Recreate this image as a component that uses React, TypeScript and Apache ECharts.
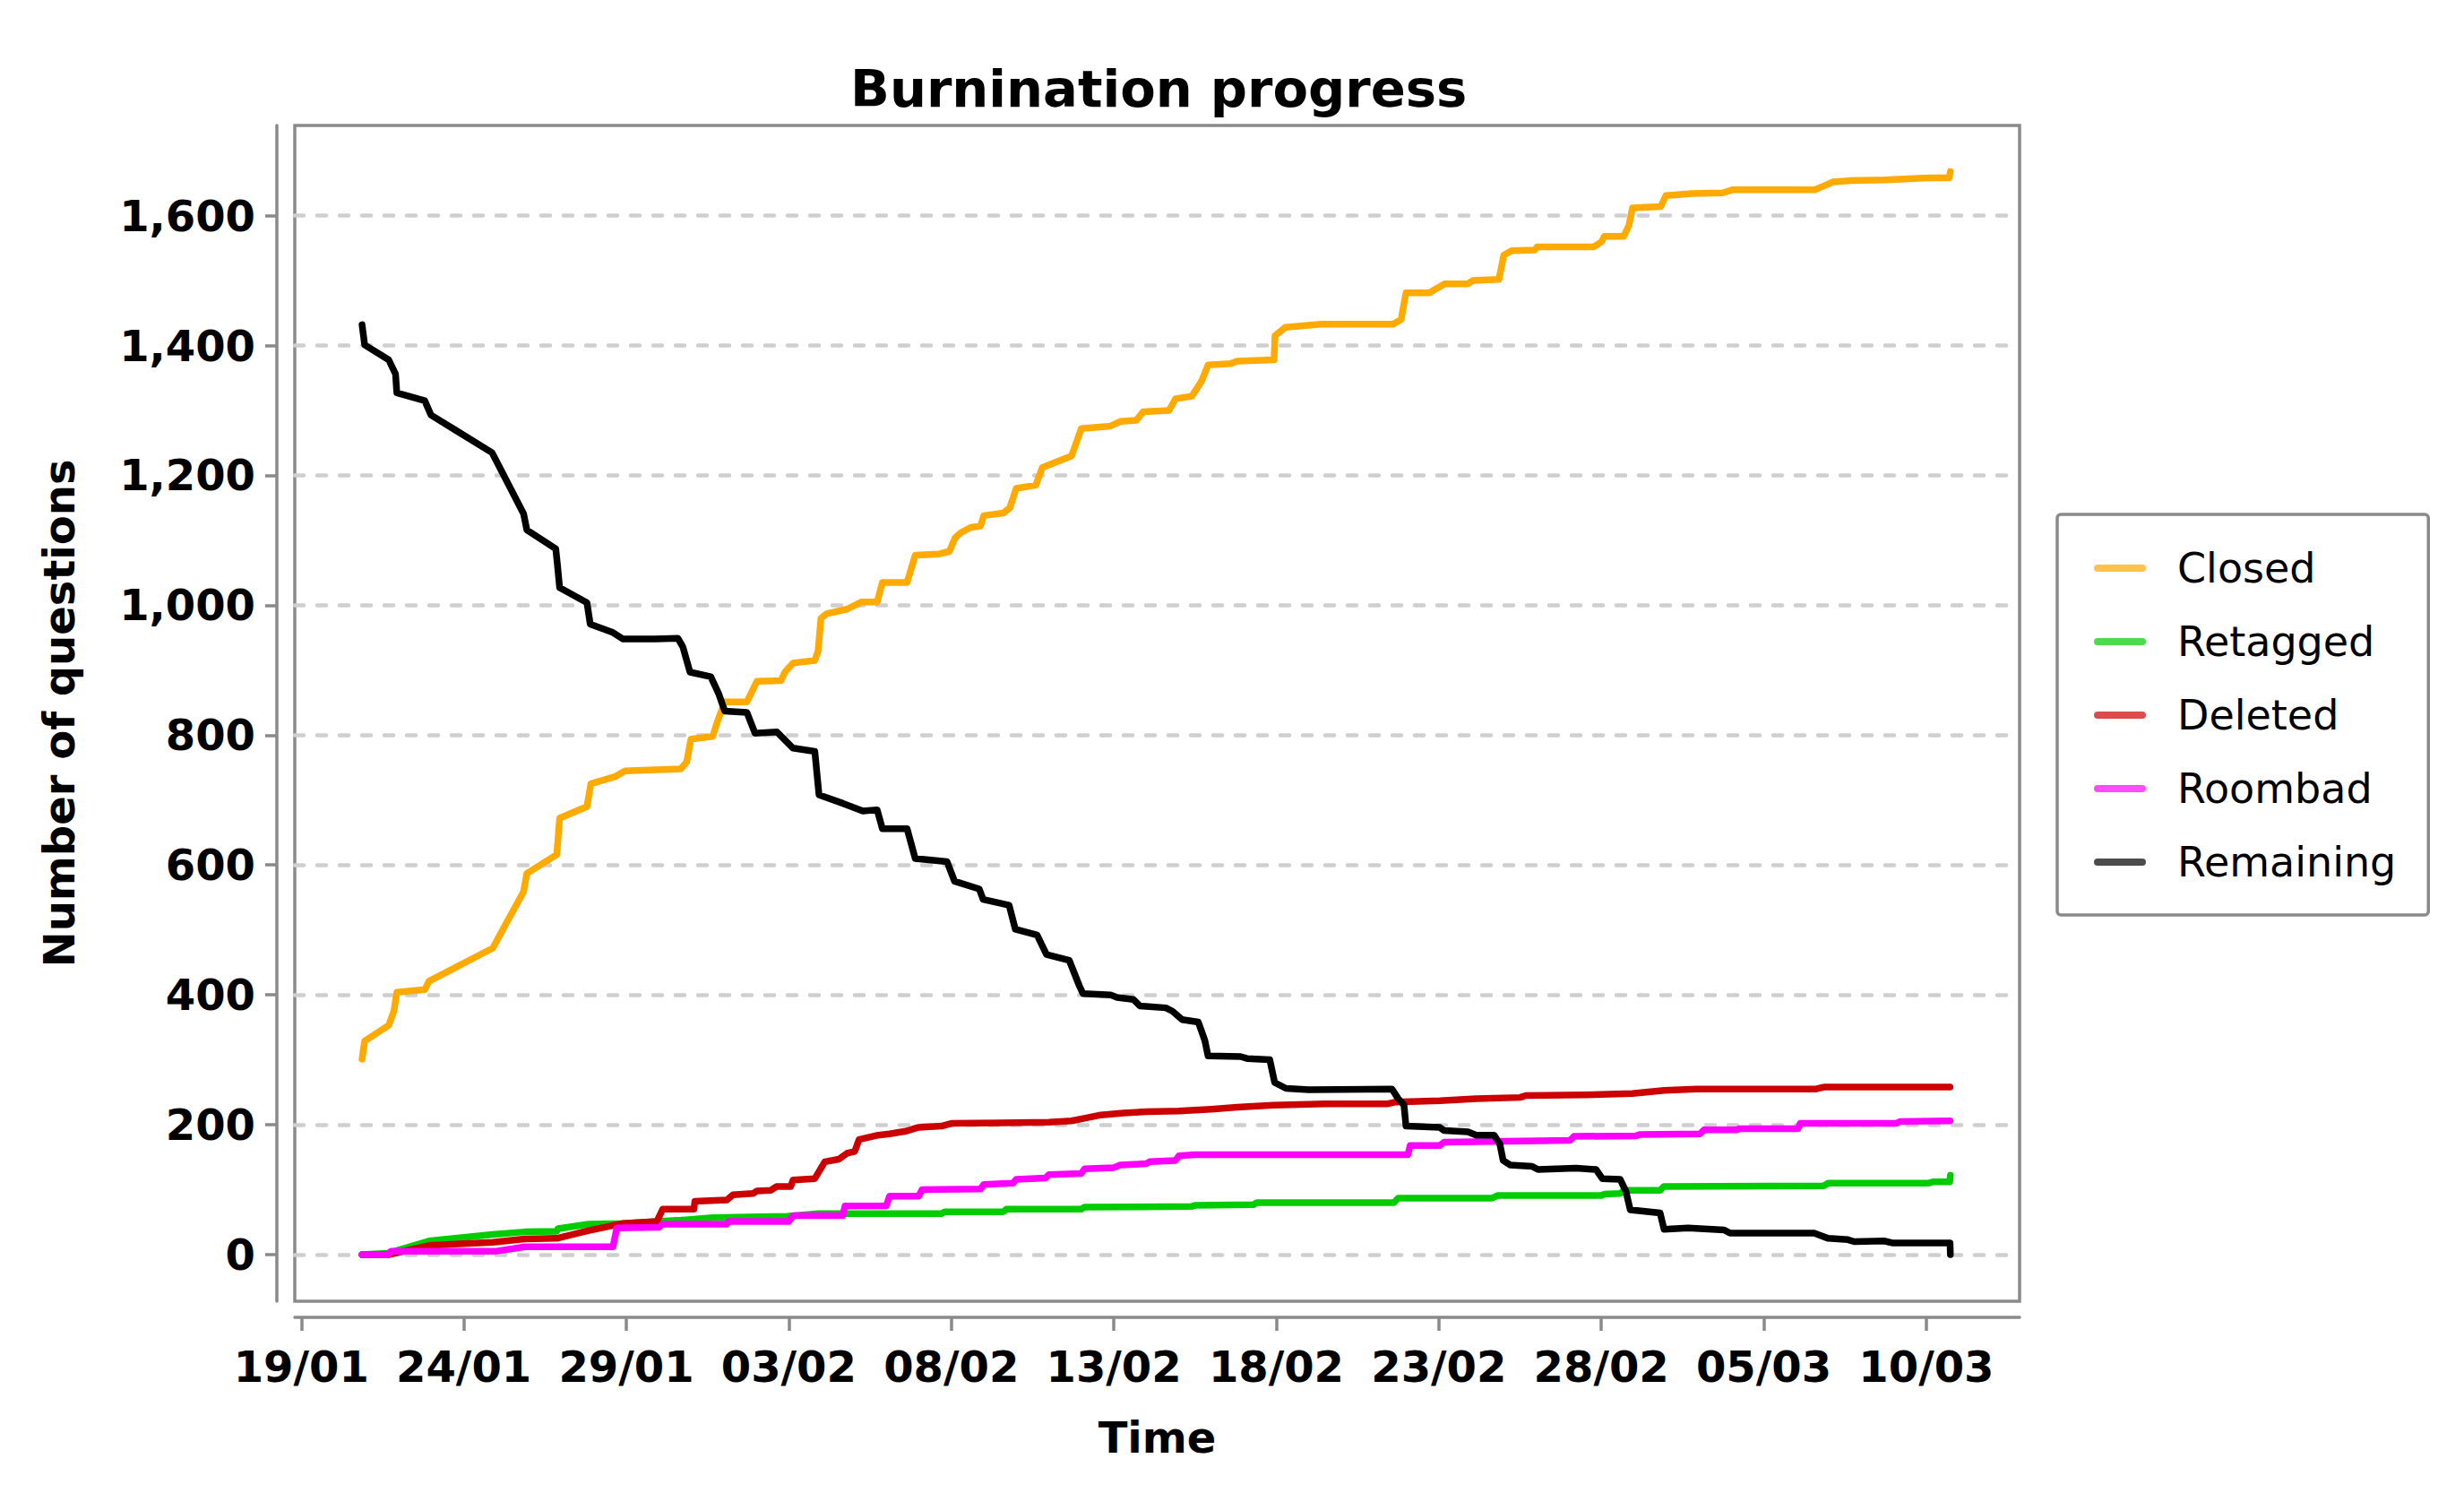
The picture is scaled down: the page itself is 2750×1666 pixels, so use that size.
import React, { useEffect, useRef } from "react";
import * as echarts from "echarts";

// Time axis: day offsets from 19/01 (00:00 UTC)
const START = Date.UTC(2018, 0, 19);
const DAY = 86400000;
const ts = (d: number) => START + d * DAY;

// [day offset, number of questions]
const closed: [number, number][] = [
  [1.87, 301], [1.95, 329], [2.69, 353], [2.85, 375], [2.94, 404], [3.8, 408], [3.93, 421],
  [5.89, 472], [6.84, 559], [6.94, 587], [7.86, 616], [7.95, 672], [8.79, 690], [8.91, 725],
  [9.65, 736], [9.96, 745], [11.68, 748], [11.86, 759], [11.99, 794], [12.66, 798], [12.79, 819],
  [13.03, 851], [13.71, 851], [14.02, 883], [14.76, 884], [14.88, 897], [15.13, 911], [15.8, 915],
  [15.9, 929], [15.99, 980], [16.17, 987], [16.79, 994], [17.23, 1005], [17.72, 1005], [17.88, 1035],
  [18.64, 1035], [18.89, 1077], [19.63, 1079], [19.94, 1083], [20.12, 1104], [20.3, 1112],
  [20.6, 1120], [20.9, 1122], [21.0, 1138], [21.6, 1142], [21.8, 1150], [22.0, 1180], [22.6, 1185],
  [22.8, 1212], [23.3, 1222], [23.7, 1230], [24.0, 1272], [24.9, 1276], [25.2, 1283], [25.7, 1285],
  [25.9, 1298], [26.7, 1300], [26.9, 1318], [27.4, 1322], [27.7, 1345], [27.9, 1370], [28.6, 1372],
  [28.8, 1376], [29.93, 1378], [29.96, 1415], [30.28, 1428], [31.38, 1433], [33.6, 1433],
  [33.84, 1440], [33.99, 1481], [34.71, 1481], [34.87, 1486], [35.18, 1495], [35.89, 1495],
  [36.05, 1500], [36.85, 1502], [37.0, 1539], [37.24, 1546], [37.95, 1547], [38.03, 1552],
  [39.77, 1552], [40.01, 1560], [40.09, 1568], [40.69, 1568], [40.85, 1585], [40.96, 1612],
  [41.83, 1614], [41.99, 1631], [42.78, 1634], [43.73, 1635], [44.05, 1640], [46.58, 1640],
  [47.13, 1652], [47.69, 1654], [48.72, 1655], [50.06, 1658], [50.7, 1658], [50.74, 1668],
];

const retagged: [number, number][] = [
  [1.87, 0], [2.65, 2], [3.93, 21], [5.89, 31], [6.88, 35], [7.86, 36], [7.9, 40], [8.85, 47],
  [9.9, 48], [11.68, 53], [12.66, 57], [14.94, 59], [15.93, 63], [17.75, 63], [19.7, 63],
  [19.8, 66], [21.6, 66], [21.7, 70], [24.0, 70], [24.1, 73], [27.4, 74], [27.5, 76], [29.3, 77],
  [29.4, 80], [33.62, 80], [33.75, 87], [36.64, 87], [36.82, 91], [40.0, 91], [40.1, 93],
  [40.58, 94], [40.7, 99], [41.81, 99], [41.93, 105], [46.85, 106], [46.98, 110], [50.06, 110],
  [50.2, 112], [50.72, 112], [50.74, 122],
];

const deleted: [number, number][] = [
  [1.87, 0], [2.69, 0], [3.93, 14], [5.89, 19], [6.88, 24], [7.86, 25], [8.85, 37], [9.9, 48],
  [10.94, 51], [11.12, 70], [12.08, 70], [12.11, 82], [13.09, 84], [13.28, 92], [13.9, 94],
  [14.02, 98], [14.45, 99], [14.63, 105], [15.06, 105], [15.13, 115], [15.8, 117], [16.11, 143],
  [16.54, 147], [16.79, 156], [17.03, 159], [17.16, 177], [17.75, 184], [18.1, 186], [18.6, 190],
  [19.0, 196], [19.7, 198], [20.0, 202], [21.5, 203], [23.0, 204], [23.7, 206], [24.1, 210],
  [24.6, 215], [25.3, 218], [26.0, 220], [27.0, 221], [28.0, 224], [28.8, 227], [29.9, 230],
  [31.5, 232], [33.4, 232], [33.68, 235], [35.04, 237], [36.15, 240], [37.5, 242], [37.68, 245],
  [39.47, 246], [40.95, 248], [41.93, 253], [42.92, 255], [46.61, 255], [46.85, 258], [50.73, 258],
];

const roombad: [number, number][] = [
  [1.87, 0], [2.65, 0], [2.76, 5], [3.86, 5], [5.96, 5], [6.88, 12], [9.59, 12], [9.71, 41],
  [11.0, 42], [11.12, 47], [13.09, 47], [13.16, 51], [15.0, 51], [15.13, 60], [16.66, 60],
  [16.73, 75], [18.0, 75], [18.1, 90], [19.0, 90], [19.1, 100], [20.9, 101], [21.0, 108],
  [21.9, 110], [22.0, 116], [22.9, 118], [23.0, 123], [24.0, 125], [24.1, 132], [25.0, 134],
  [25.2, 138], [26.0, 140], [26.1, 143], [26.9, 145], [27.0, 152], [27.5, 154], [34.05, 154],
  [34.12, 168], [35.03, 168], [35.16, 173], [39.04, 176], [39.16, 182], [41.07, 183], [41.2, 185],
  [43.04, 186], [43.16, 192], [44.15, 192], [44.27, 194], [46.05, 194], [46.12, 202], [49.07, 202],
  [49.2, 205], [50.73, 206],
];

const remaining: [number, number][] = [
  [1.87, 1432], [1.95, 1401], [2.69, 1378], [2.9, 1356], [2.94, 1327], [3.8, 1315], [3.99, 1293],
  [5.87, 1235], [6.84, 1141], [6.94, 1116], [7.83, 1087], [7.88, 1063], [7.95, 1027], [8.79, 1004],
  [8.89, 971], [9.59, 958], [9.9, 948], [10.88, 948], [11.59, 949], [11.74, 936], [11.96, 897],
  [12.6, 890], [12.85, 863], [13.03, 837], [13.71, 835], [13.96, 803], [14.63, 805], [15.13, 780],
  [15.8, 775], [15.93, 708], [16.66, 695], [17.28, 683], [17.72, 685], [17.88, 656], [18.64, 656],
  [18.89, 610], [19.87, 605], [20.1, 575], [20.86, 563], [20.98, 547], [21.78, 538], [21.97, 501],
  [22.64, 492], [22.93, 462], [23.63, 453], [23.94, 414], [24.05, 402], [24.9, 400], [25.1, 396],
  [25.6, 393], [25.8, 383], [26.6, 380], [26.8, 375], [27.1, 362], [27.6, 358], [27.8, 330],
  [27.9, 306], [28.9, 305], [29.1, 302], [29.8, 300], [29.95, 265], [30.3, 256], [31.0, 254],
  [33.56, 255], [33.74, 241], [33.93, 230], [33.99, 198], [35.03, 196], [35.16, 191], [35.9, 189],
  [36.15, 184], [36.7, 184], [36.88, 170], [36.98, 145], [37.19, 138], [37.87, 136], [38.05, 131],
  [39.22, 133], [39.84, 131], [40.03, 117], [40.58, 116], [40.76, 97], [40.89, 69], [41.81, 64],
  [41.93, 39], [42.67, 41], [43.78, 38], [43.96, 33], [46.55, 33], [46.98, 25], [47.59, 23],
  [47.78, 20], [48.7, 21], [48.95, 18], [50.73, 18], [50.74, 0],
];

const seriesNames = ["Closed", "Retagged", "Deleted", "Roombad", "Remaining"];
const seriesColors = ["#ffaa00", "#00cc00", "#cc0000", "#ff00ff", "#000000"];
const seriesData = [closed, retagged, deleted, roombad, remaining];

const xTickDays = [0, 5, 10, 15, 20, 25, 30, 35, 40, 45, 50];
const yTickValues = [0, 200, 400, 600, 800, 1000, 1200, 1400, 1600];

const FONT = "DejaVu Sans";
const AXIS_GRAY = "#8a8a8a";

export default function App() {
  const ref = useRef<HTMLDivElement>(null);

  useEffect(() => {
    if (!ref.current) return;
    const chart = echarts.init(ref.current, null, { renderer: "svg" });
    const xTicks = xTickDays.map(ts);
    const pad = (n: number) => (n < 10 ? "0" + n : "" + n);

    const option: any = {
      animation: false,
      backgroundColor: "#ffffff",
      title: {
        text: "Burnination progress",
        left: 949,
        top: 70,
        padding: 0,
        textStyle: { fontFamily: FONT, fontSize: 57.6, fontWeight: "bold", color: "#000", lineHeight: 58 },
      },
      grid: {
        left: 329,
        right: 496,
        top: 140,
        bottom: 214,
        show: true,
        borderColor: AXIS_GRAY,
        borderWidth: 3.5,
        backgroundColor: "transparent",
        containLabel: false,
        outerBoundsMode: "none",
      },
      legend: {
        orient: "vertical",
        left: 2296,
        top: 574,
        padding: [35, 36, 34, 41],
        itemWidth: 50,
        itemHeight: 50,
        itemGap: 32,
        backgroundColor: "#ffffff",
        borderColor: AXIS_GRAY,
        borderWidth: 3.5,
        borderRadius: 4,
        selectedMode: false,
        lineStyle: { width: 8, cap: "round", opacity: 0.7 },
        itemStyle: { opacity: 0, borderWidth: 0 },
        textStyle: { fontFamily: FONT, fontSize: 46, color: "#000", lineHeight: 50, padding: [0, 0, 0, 34] },
        data: seriesNames,
      },
      xAxis: {
        type: "value",
        min: ts(-0.2),
        max: ts(52.87),
        offset: 18,
        name: "Time",
        nameLocation: "middle",
        nameGap: 110,
        nameTextStyle: { fontFamily: FONT, fontSize: 48, fontWeight: "bold", color: "#000" },
        axisLine: { show: true, onZero: false, lineStyle: { color: AXIS_GRAY, width: 3.5 } },
        axisTick: { show: true, inside: false, length: 15, customValues: xTicks, lineStyle: { color: AXIS_GRAY, width: 3.5 } },
        axisLabel: {
          show: true,
          customValues: xTicks,
          margin: 31,
          fontFamily: FONT,
          fontSize: 48,
          fontWeight: "bold",
          color: "#000",
          hideOverlap: false,
          formatter: (v: number) => {
            const dt = new Date(v);
            return pad(dt.getUTCDate()) + "/" + pad(dt.getUTCMonth() + 1);
          },
        },
        splitLine: { show: false },
        minorTick: { show: false },
      },
      yAxis: {
        type: "value",
        min: -71.8,
        max: 1738.9,
        offset: 20,
        name: "Number of questions",
        nameLocation: "middle",
        nameGap: 219,
        nameRotate: 90,
        nameTextStyle: { fontFamily: FONT, fontSize: 48, fontWeight: "bold", color: "#000" },
        axisLine: { show: true, onZero: false, lineStyle: { color: AXIS_GRAY, width: 3.5 } },
        axisTick: { show: true, inside: false, length: 13, customValues: yTickValues, lineStyle: { color: AXIS_GRAY, width: 3.5 } },
        axisLabel: {
          show: true,
          customValues: yTickValues,
          margin: 24,
          fontFamily: FONT,
          fontSize: 48,
          fontWeight: "bold",
          color: "#000",
          formatter: (v: number) => v.toLocaleString("en-US"),
        },
        splitLine: { show: true, lineStyle: { color: "#cfcfcf", width: 4.5, type: [10, 15], cap: "round" } },
      },
      series: seriesNames.map((name, i) => ({
        name,
        type: "line",
        data: seriesData[i].map(([d, v]) => [ts(d), v]),
        symbol: "none",
        showSymbol: false,
        silent: true,
        clip: true,
        color: seriesColors[i],
        lineStyle: { color: seriesColors[i], width: 7.5, cap: "round", join: "round", opacity: 1 },
        itemStyle: { color: seriesColors[i] },
        emphasis: { disabled: true },
      })),
    };

    chart.setOption(option);
    return () => chart.dispose();
  }, []);

  return (
    <div
      ref={ref}
      style={{ position: "absolute", left: 0, top: 0, width: 2750, height: 1666, background: "#fff" }}
    />
  );
}
